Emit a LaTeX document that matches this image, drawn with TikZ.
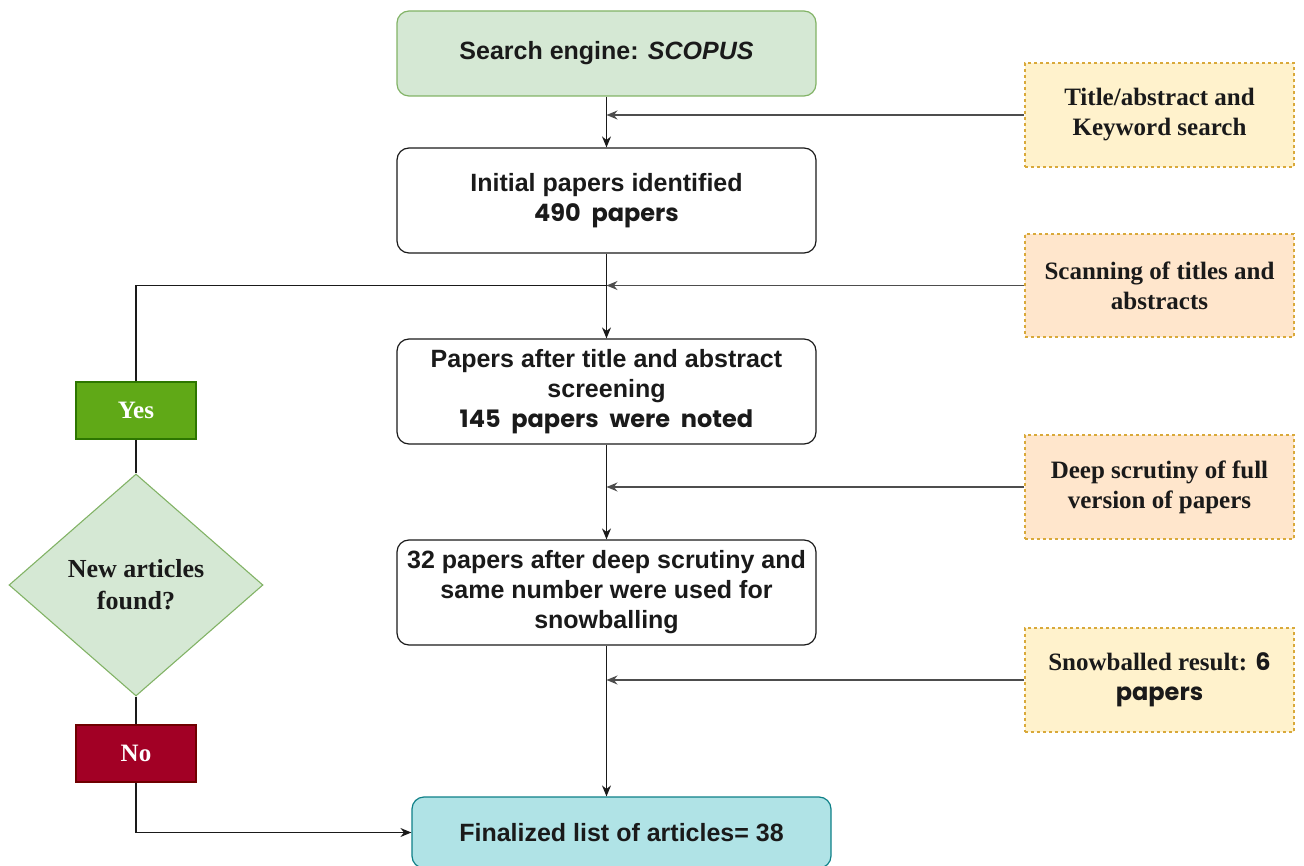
\documentclass[tikz,border=0pt]{standalone}
\usepackage{fontspec}
\setmainfont{Liberation Serif}
\newfontfamily\sansf{Liberation Sans}
\newfontfamily\roundf{Poppins}
\usetikzlibrary{shapes.geometric,arrows.meta}

\definecolor{greenfill}{HTML}{D5E8D4}
\definecolor{greenline}{HTML}{82B366}
\definecolor{tealfill}{HTML}{B0E3E6}
\definecolor{tealline}{HTML}{0E8088}
\definecolor{yellowfill}{HTML}{FFF2CC}
\definecolor{orangefill}{HTML}{FFE6CC}
\definecolor{dashline}{HTML}{D9A93A}
\definecolor{yesfill}{HTML}{60A917}
\definecolor{yesline}{HTML}{2D7600}
\definecolor{nofill}{HTML}{A20025}
\definecolor{noline}{HTML}{6F0000}
\definecolor{linkgray}{HTML}{4D4D4D}
\definecolor{inkblack}{HTML}{1A1A1A}

\tikzset{
  mainbox/.style={draw=inkblack, line width=1.2pt, rounded corners=12pt,
    minimum width=419pt, minimum height=105pt, inner sep=0pt, align=center,
    font=\sansf\bfseries\fontsize{25}{30}\selectfont, text=inkblack},
  sidebox/.style={draw=dashline, dash pattern=on 3pt off 3pt, line width=1.1pt,
    minimum width=269pt, minimum height=104pt, inner sep=0pt, align=center,
    font=\bfseries\fontsize{25}{30}\selectfont, text=inkblack},
  tagbox/.style={line width=1.1pt, minimum width=120pt, minimum height=57pt,
    inner sep=0pt, text=white, font=\bfseries\fontsize{25}{30}\selectfont},
  flow/.style={draw=inkblack, line width=1.3pt},
  arr/.style={flow, -{Stealth[length=11pt,width=9pt]}},
  sidearr/.style={draw=linkgray, line width=1.3pt, -{Stealth[length=11pt,width=9pt]}},
}

% rounded hand-lettered look for the counts
\newcommand{\rnd}[1]{{\roundf\bfseries\fontsize{24}{30}\selectfont\spaceskip=0.45em plus 0.1em\relax #1}}

\begin{document}
\begin{tikzpicture}[x=1pt,y=-1pt]
  \useasboundingbox (0,0) rectangle (1304,866);

  % main column
  \node[mainbox, fill=greenfill, draw=greenline, minimum height=85pt] (search) at (606.5,53.5)
    {Search engine: \textit{SCOPUS}};
  \node[mainbox, fill=white] (initial) at (606.5,200.5)
    {Initial papers identified\\\rnd{490 papers}};
  \node[mainbox, fill=white] (screen) at (606.5,391.5)
    {Papers after title and abstract\\screening\\\rnd{145 papers were noted}};
  \node[mainbox, fill=white] (deep) at (606.5,592.5)
    {32 papers after deep scrutiny and\\same number were used for\\snowballing};
  \node[mainbox, fill=tealfill, draw=tealline, minimum height=71pt] (final) at (621.5,832.5)
    {Finalized list of articles= 38};

  % side annotations
  \node[sidebox, fill=yellowfill] (kw) at (1159.5,115)
    {Title/abstract and\\Keyword search};
  \node[sidebox, fill=orangefill, minimum height=103pt] (scan) at (1159.5,285.5)
    {Scanning of titles and\\abstracts};
  \node[sidebox, fill=orangefill] (full) at (1159.5,487)
    {Deep scrutiny of full\\version of papers};
  \node[sidebox, fill=yellowfill] (snow) at (1159.5,680)
    {Snowballed result: \rnd{6}\\\rnd{papers}};

  % decision loop
  \node[tagbox, fill=yesfill, draw=yesline] (yes) at (136,410.5) {Yes};
  \node[diamond, fill=greenfill, draw=greenline, line width=1.1pt,
        minimum width=254pt, minimum height=222pt, inner sep=0pt, align=center,
        font=\bfseries\fontsize{26}{32}\selectfont, text=inkblack] (dia) at (136,585)
    {New articles\\found?};
  \node[tagbox, fill=nofill, draw=noline] (no) at (136,753.5) {No};

  % junction points on the main column
  \coordinate (j1) at (search.south |- kw.west);
  \coordinate (j2) at (initial.south |- scan.west);
  \coordinate (j3) at (screen.south |- full.west);
  \coordinate (j4) at (deep.south |- snow.west);

  % main flow
  \draw[arr] (search) -- (initial);
  \draw[arr] (initial) -- (screen);
  \draw[arr] (screen) -- (deep);
  \draw[arr] (deep.south) -- (deep.south |- final.north);

  % side inputs
  \draw[sidearr] (kw.west) -- (j1);
  \draw[sidearr] (scan.west) -- (j2);
  \draw[sidearr] (full.west) -- (j3);
  \draw[sidearr] (snow.west) -- (j4);

  % loop back and exit
  \draw[flow] (yes.north) |- (j2);
  \draw[flow] (yes.south) -- (dia.north);
  \draw[flow] (dia.south) -- (no.north);
  \draw[arr] (no.south) |- (final.west);
\end{tikzpicture}
\end{document}
